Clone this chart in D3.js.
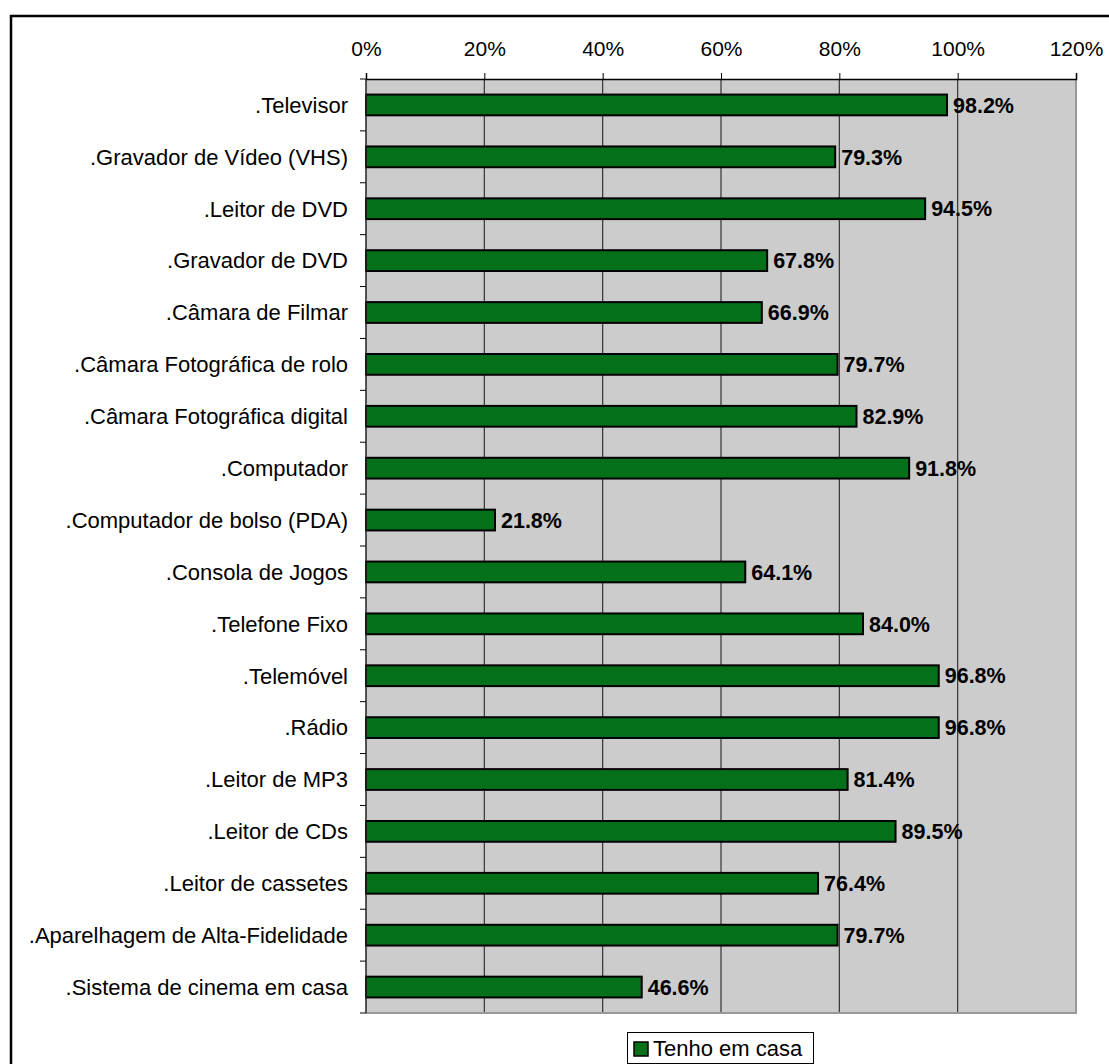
<!DOCTYPE html>
<html><head><meta charset="utf-8">
<script src="https://cdn.jsdelivr.net/npm/d3@7"></script>
<style>body{margin:0;background:#fff;} svg{display:block;font-family:"Liberation Sans",Arial,sans-serif;}</style>
</head><body>
<svg id="c" width="1109" height="1064"></svg>
<script>
const categories = [".Televisor",".Gravador de Vídeo (VHS)",".Leitor de DVD",".Gravador de DVD",".Câmara de Filmar",".Câmara Fotográfica de rolo",".Câmara Fotográfica digital",".Computador",".Computador de bolso (PDA)",".Consola de Jogos",".Telefone Fixo",".Telemóvel",".Rádio",".Leitor de MP3",".Leitor de CDs",".Leitor de cassetes",".Aparelhagem de Alta-Fidelidade",".Sistema de cinema em casa"];
const values = [98.2,79.3,94.5,67.8,66.9,79.7,82.9,91.8,21.8,64.1,84.0,96.8,96.8,81.4,89.5,76.4,79.7,46.6];
const tickValues = [0,20,40,60,80,100,120];
const seriesName = "Tenho em casa";

const svg = d3.select("#c");
const L=366, R=1076, T=79, B=1013;
const green="#04701a";

svg.append("rect").attr("x",11).attr("y",16).attr("width",1200).attr("height",1200)
  .attr("fill","none").attr("stroke","#000").attr("stroke-width",2.5);

const x = d3.scaleLinear().domain([0,120]).range([L,R]);
const y = d3.scaleBand().domain(categories).range([T,B]).paddingInner(0.6).paddingOuter(0.3);

svg.append("rect").attr("x",L).attr("y",T).attr("width",R-L).attr("height",B-T).attr("fill","#cccccc");
svg.append("g").selectAll("line").data(tickValues.filter(v=>v>0&&v<120)).join("line")
  .attr("x1",d=>x(d)).attr("x2",d=>x(d)).attr("y1",T).attr("y2",B).attr("stroke","#333").attr("stroke-width",1.2);
svg.append("path").attr("d",`M${R},${T}V${B}H${L}`).attr("fill","none").attr("stroke","#999").attr("stroke-width",2);

svg.append("g").selectAll("rect").data(values).join("rect")
  .attr("x",x(0)).attr("y",(d,i)=>y(categories[i]))
  .attr("width",d=>x(d)-x(0)).attr("height",y.bandwidth())
  .attr("fill",green).attr("stroke","#000").attr("stroke-width",2);

svg.append("g").selectAll("text").data(values).join("text")
  .attr("x",d=>x(d)+6).attr("y",(d,i)=>y(categories[i])+y.bandwidth()/2+7.7)
  .attr("font-size",21.5).attr("font-weight","bold").attr("fill","#000")
  .text(d=>d.toFixed(1)+"%");

const xAxis = d3.axisTop(x).tickValues(tickValues).tickFormat(d=>d+"%").tickSize(6).tickPadding(17);
const gx = svg.append("g").attr("transform",`translate(0,${T})`).call(xAxis);
gx.select(".domain").attr("stroke","#000").attr("stroke-width",1.5);
gx.selectAll(".tick line").attr("stroke","#000");
gx.selectAll(".tick text").attr("font-size",21).attr("fill","#000").attr("font-family","Liberation Sans, Arial, sans-serif");

const yAxis = d3.axisLeft(y).tickSize(0).tickPadding(18);
const gy = svg.append("g").attr("transform",`translate(${L},0)`).call(yAxis);
gy.select(".domain").remove();
gy.selectAll(".tick text").attr("font-size",22).attr("fill","#000").attr("dy",null)
  .attr("y",7.8).attr("font-family","Liberation Sans, Arial, sans-serif");
const bounds = d3.range(categories.length+1).map(i=>T+i*(B-T)/categories.length);
svg.append("g").selectAll("line").data(bounds).join("line")
  .attr("x1",L-6).attr("x2",L).attr("y1",d=>d).attr("y2",d=>d).attr("stroke","#000");
svg.append("line").attr("x1",L).attr("x2",L).attr("y1",T).attr("y2",B).attr("stroke","#222").attr("stroke-width",1.5);

const lg = svg.append("g");
lg.append("rect").attr("x",627.5).attr("y",1032.5).attr("width",186).attr("height",31).attr("fill","#fff").attr("stroke","#000");
lg.append("rect").attr("x",634).attr("y",1042).attr("width",14).attr("height",14).attr("fill",green).attr("stroke","#000").attr("stroke-width",1.5);
lg.append("text").attr("x",653).attr("y",1056).attr("font-size",22).attr("fill","#000").text(seriesName);
</script>
</body></html>
